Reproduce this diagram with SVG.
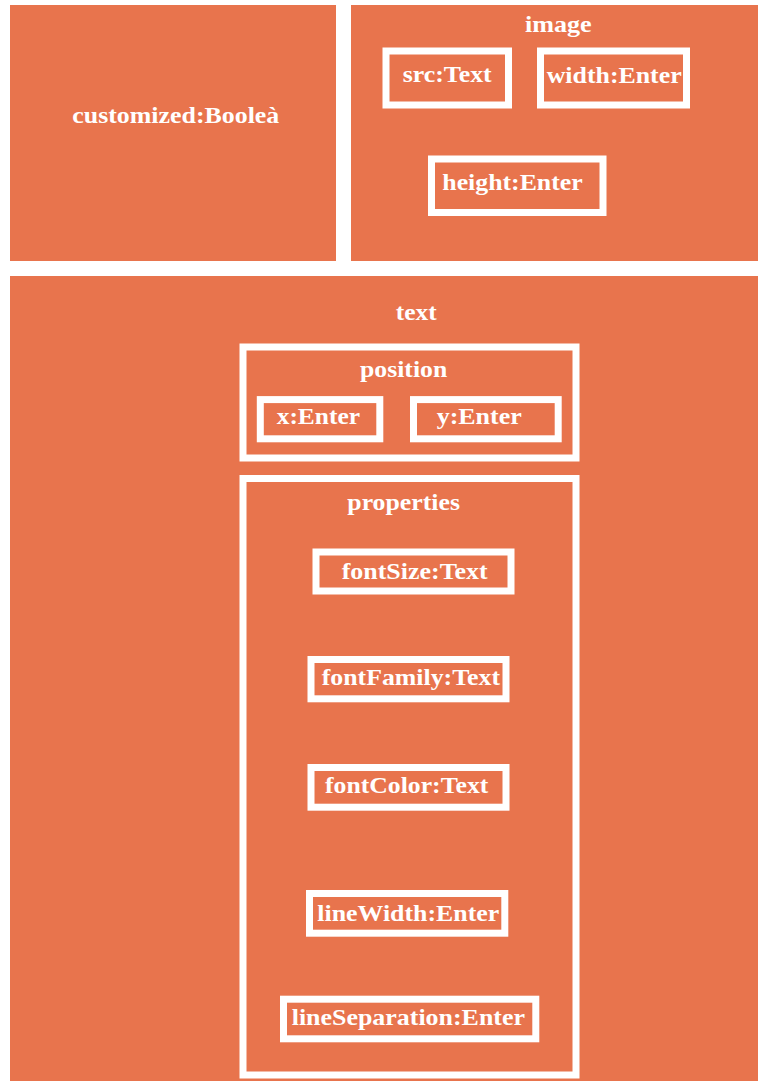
<svg xmlns="http://www.w3.org/2000/svg" width="758" height="1081" viewBox="0 0 758 1081">
  <style>
    .panel { fill: #E8744D; }
    .field { fill: none; stroke: #FFFFFF; stroke-width: 7; }
    .lbl { fill: #FFFFFF; font-family: "Liberation Serif", "Times New Roman", serif; font-weight: bold; font-size: 23px; }
  </style>
  <rect width="758" height="1081" fill="#FFFFFF"/>

  <g id="customized">
    <rect class="panel" x="10" y="5" width="326" height="256"/>
    <text class="lbl" x="72.3" y="123" textLength="207" lengthAdjust="spacingAndGlyphs">customized:Booleà</text>
  </g>

  <g id="image">
    <rect class="panel" x="351" y="5" width="407" height="256"/>
    <text class="lbl" x="525" y="31.5" textLength="66.7" lengthAdjust="spacingAndGlyphs">image</text>
    <g id="image-src">
      <rect class="field" x="386" y="51" width="122.5" height="54"/>
      <text class="lbl" x="402.7" y="81.7" textLength="89" lengthAdjust="spacingAndGlyphs">src:Text</text>
    </g>
    <g id="image-width">
      <rect class="field" x="540.5" y="51" width="146" height="54"/>
      <text class="lbl" x="546.7" y="83.3" textLength="135" lengthAdjust="spacingAndGlyphs">width:Enter</text>
    </g>
    <g id="image-height">
      <rect class="field" x="431.5" y="159" width="171.5" height="53.5"/>
      <text class="lbl" x="442.3" y="190" textLength="140.4" lengthAdjust="spacingAndGlyphs">height:Enter</text>
    </g>
  </g>

  <g id="text">
    <rect class="panel" x="10" y="276" width="748" height="805"/>
    <text class="lbl" x="395.7" y="320" textLength="41" lengthAdjust="spacingAndGlyphs">text</text>

    <g id="position">
      <rect class="field" x="243" y="347" width="333" height="111"/>
      <text class="lbl" x="360" y="377.3" textLength="87.3" lengthAdjust="spacingAndGlyphs">position</text>
      <g id="position-x">
        <rect class="field" x="260.3" y="399.6" width="119.5" height="39.2"/>
        <text class="lbl" x="276.7" y="424" textLength="83.3" lengthAdjust="spacingAndGlyphs">x:Enter</text>
      </g>
      <g id="position-y">
        <rect class="field" x="413.5" y="399.6" width="144.7" height="39.2"/>
        <text class="lbl" x="436.7" y="424" textLength="85" lengthAdjust="spacingAndGlyphs">y:Enter</text>
      </g>
    </g>

    <g id="properties">
      <rect class="field" x="243" y="478.5" width="333" height="596.5"/>
      <text class="lbl" x="347.3" y="510" textLength="112.7" lengthAdjust="spacingAndGlyphs">properties</text>
      <g id="prop-fontSize">
        <rect class="field" x="316" y="552" width="195" height="39"/>
        <text class="lbl" x="341.7" y="578.7" textLength="146" lengthAdjust="spacingAndGlyphs">fontSize:Text</text>
      </g>
      <g id="prop-fontFamily">
        <rect class="field" x="311" y="659.5" width="195" height="39.3"/>
        <text class="lbl" x="321.7" y="685" textLength="178.3" lengthAdjust="spacingAndGlyphs">fontFamily:Text</text>
      </g>
      <g id="prop-fontColor">
        <rect class="field" x="311" y="767.5" width="195" height="39.7"/>
        <text class="lbl" x="325" y="793.3" textLength="163.3" lengthAdjust="spacingAndGlyphs">fontColor:Text</text>
      </g>
      <g id="prop-lineWidth">
        <rect class="field" x="309.5" y="893.5" width="195.3" height="39.7"/>
        <text class="lbl" x="317.3" y="921" textLength="182" lengthAdjust="spacingAndGlyphs">lineWidth:Enter</text>
      </g>
      <g id="prop-lineSeparation">
        <rect class="field" x="283.5" y="999.2" width="252.3" height="39.6"/>
        <text class="lbl" x="291.7" y="1025" textLength="233.3" lengthAdjust="spacingAndGlyphs">lineSeparation:Enter</text>
      </g>
    </g>
  </g>

  <g id="connectors"/>
</svg>
